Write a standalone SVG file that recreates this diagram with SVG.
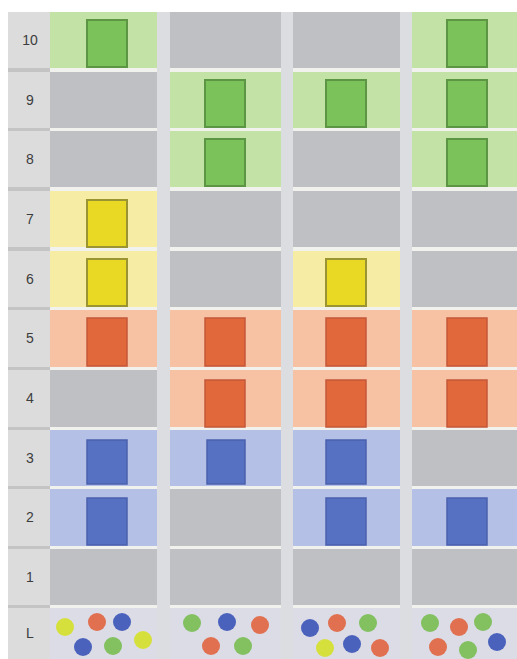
<svg xmlns="http://www.w3.org/2000/svg" width="517" height="659" viewBox="0 0 517 659">
<style>
.g{fill:#bfc0c3}
.gb{fill:#c2e2a6}
.yb{fill:#f7eca3}
.ob{fill:#f6c2a3}
.bb{fill:#b5c0e7}
.gs{fill:#7cc25a;stroke:#5c9645;stroke-width:2}
.ys{fill:#e9d824;stroke:#9a9432;stroke-width:2}
.os{fill:#e1683a;stroke:#c4583a;stroke-width:1.5}
.bs{fill:#5670c2;stroke:#4a60ad;stroke-width:1.5}
.lbl{font-family:"Liberation Sans",Arial,sans-serif;font-size:14px;fill:#3c3c3c;text-anchor:middle}
.dy{fill:#d6e03c}.do{fill:#e07050}.dbl{fill:#4a62bc}.dg{fill:#82c060}
</style>
<rect x="0" y="0" width="517" height="659" fill="#ffffff"/>
<rect x="8" y="12" width="509" height="647" fill="#f1f1ee"/>
<g id="labels">
<rect x="8" y="12" width="42" height="647" fill="#c4c4c4"/>
<rect x="8" y="12" width="42" height="56" fill="#dcdcdc"/>
<rect x="8" y="72" width="42" height="56" fill="#dcdcdc"/>
<rect x="8" y="131" width="42" height="56" fill="#dcdcdc"/>
<rect x="8" y="191" width="42" height="56" fill="#dcdcdc"/>
<rect x="8" y="251" width="42" height="56" fill="#dcdcdc"/>
<rect x="8" y="310" width="42" height="57" fill="#dcdcdc"/>
<rect x="8" y="370" width="42" height="57" fill="#dcdcdc"/>
<rect x="8" y="430" width="42" height="56" fill="#dcdcdc"/>
<rect x="8" y="489" width="42" height="57" fill="#dcdcdc"/>
<rect x="8" y="549" width="42" height="56" fill="#dcdcdc"/>
<rect x="8" y="608" width="42" height="51" fill="#dcdcdc"/>
<text class="lbl" x="30" y="45">10</text>
<text class="lbl" x="30" y="105">9</text>
<text class="lbl" x="30" y="164">8</text>
<text class="lbl" x="30" y="224">7</text>
<text class="lbl" x="30" y="284">6</text>
<text class="lbl" x="30" y="343">5</text>
<text class="lbl" x="30" y="403">4</text>
<text class="lbl" x="30" y="463">3</text>
<text class="lbl" x="30" y="522">2</text>
<text class="lbl" x="30" y="582">1</text>
<text class="lbl" x="30" y="638">L</text>
</g>
<g id="gaps" fill="#dcdde1">
<rect x="157" y="12" width="13" height="647"/>
<rect x="281" y="12" width="12" height="647"/>
<rect x="400" y="12" width="12" height="647"/>
</g>
<g id="row10">
<rect class="gb" x="50" y="12" width="107" height="56"/><rect class="gs" x="87" y="20" width="40" height="47"/>
<rect class="g" x="170" y="12" width="111" height="56"/>
<rect class="g" x="293" y="12" width="107" height="56"/>
<rect class="gb" x="412" y="12" width="105" height="56"/><rect class="gs" x="447" y="20" width="40" height="47"/>
</g>
<g id="row9">
<rect class="g" x="50" y="72" width="107" height="56"/>
<rect class="gb" x="170" y="72" width="111" height="56"/><rect class="gs" x="205" y="80" width="40" height="47"/>
<rect class="gb" x="293" y="72" width="107" height="56"/><rect class="gs" x="326" y="80" width="40" height="47"/>
<rect class="gb" x="412" y="72" width="105" height="56"/><rect class="gs" x="447" y="80" width="40" height="47"/>
</g>
<g id="row8">
<rect class="g" x="50" y="131" width="107" height="56"/>
<rect class="gb" x="170" y="131" width="111" height="56"/><rect class="gs" x="205" y="139" width="40" height="47"/>
<rect class="g" x="293" y="131" width="107" height="56"/>
<rect class="gb" x="412" y="131" width="105" height="56"/><rect class="gs" x="447" y="139" width="40" height="47"/>
</g>
<g id="row7">
<rect class="yb" x="50" y="191" width="107" height="56"/><rect class="ys" x="87" y="200" width="40" height="47"/>
<rect class="g" x="170" y="191" width="111" height="56"/>
<rect class="g" x="293" y="191" width="107" height="56"/>
<rect class="g" x="412" y="191" width="105" height="56"/>
</g>
<g id="row6">
<rect class="yb" x="50" y="251" width="107" height="56"/><rect class="ys" x="87" y="259" width="40" height="47"/>
<rect class="g" x="170" y="251" width="111" height="56"/>
<rect class="yb" x="293" y="251" width="107" height="56"/><rect class="ys" x="326" y="259" width="40" height="47"/>
<rect class="g" x="412" y="251" width="105" height="56"/>
</g>
<g id="row5">
<rect class="ob" x="50" y="310" width="107" height="57"/><rect class="os" x="87" y="318" width="40" height="48"/>
<rect class="ob" x="170" y="310" width="111" height="57"/><rect class="os" x="205" y="318" width="40" height="48"/>
<rect class="ob" x="293" y="310" width="107" height="57"/><rect class="os" x="326" y="318" width="40" height="48"/>
<rect class="ob" x="412" y="310" width="105" height="57"/><rect class="os" x="447" y="318" width="40" height="48"/>
</g>
<g id="row4">
<rect class="g" x="50" y="370" width="107" height="57"/>
<rect class="ob" x="170" y="370" width="111" height="57"/><rect class="os" x="205" y="380" width="40" height="47"/>
<rect class="ob" x="293" y="370" width="107" height="57"/><rect class="os" x="326" y="380" width="40" height="47"/>
<rect class="ob" x="412" y="370" width="105" height="57"/><rect class="os" x="447" y="380" width="40" height="47"/>
</g>
<g id="row3">
<rect class="bb" x="50" y="430" width="107" height="56"/><rect class="bs" x="87" y="440" width="40" height="44"/>
<rect class="bb" x="170" y="430" width="111" height="56"/><rect class="bs" x="207" y="440" width="38" height="44"/>
<rect class="bb" x="293" y="430" width="107" height="56"/><rect class="bs" x="326" y="440" width="40" height="44"/>
<rect class="g" x="412" y="430" width="105" height="56"/>
</g>
<g id="row2">
<rect class="bb" x="50" y="489" width="107" height="57"/><rect class="bs" x="87" y="498" width="40" height="47"/>
<rect class="g" x="170" y="489" width="111" height="57"/>
<rect class="bb" x="293" y="489" width="107" height="57"/><rect class="bs" x="326" y="498" width="40" height="47"/>
<rect class="bb" x="412" y="489" width="105" height="57"/><rect class="bs" x="447" y="498" width="40" height="47"/>
</g>
<g id="row1">
<rect class="g" x="50" y="549" width="107" height="56"/>
<rect class="g" x="170" y="549" width="111" height="56"/>
<rect class="g" x="293" y="549" width="107" height="56"/>
<rect class="g" x="412" y="549" width="105" height="56"/>
</g>
<g id="legend">
<rect x="50" y="608" width="107" height="51" fill="#dcdce6"/>
<rect x="170" y="608" width="111" height="51" fill="#dcdce6"/>
<rect x="293" y="608" width="107" height="51" fill="#dcdce6"/>
<rect x="412" y="608" width="105" height="51" fill="#dcdce6"/>
<circle class="dy" cx="65" cy="627" r="9"/><circle class="do" cx="97" cy="622" r="9"/><circle class="dbl" cx="122" cy="622" r="9"/>
<circle class="dbl" cx="83" cy="647" r="9"/><circle class="dg" cx="113" cy="646" r="9"/><circle class="dy" cx="143" cy="640" r="9"/>
<circle class="dg" cx="192" cy="623" r="9"/><circle class="dbl" cx="227" cy="622" r="9"/><circle class="do" cx="260" cy="625" r="9"/>
<circle class="do" cx="211" cy="646" r="9"/><circle class="dg" cx="243" cy="646" r="9"/>
<circle class="dbl" cx="310" cy="628" r="9"/><circle class="do" cx="337" cy="623" r="9"/><circle class="dg" cx="368" cy="623" r="9"/>
<circle class="dy" cx="325" cy="648" r="9"/><circle class="dbl" cx="352" cy="644" r="9"/><circle class="do" cx="380" cy="648" r="9"/>
<circle class="dg" cx="430" cy="623" r="9"/><circle class="do" cx="459" cy="627" r="9"/><circle class="dg" cx="483" cy="622" r="9"/>
<circle class="do" cx="438" cy="647" r="9"/><circle class="dg" cx="468" cy="650" r="9"/><circle class="dbl" cx="497" cy="642" r="9"/>
</g>
</svg>
